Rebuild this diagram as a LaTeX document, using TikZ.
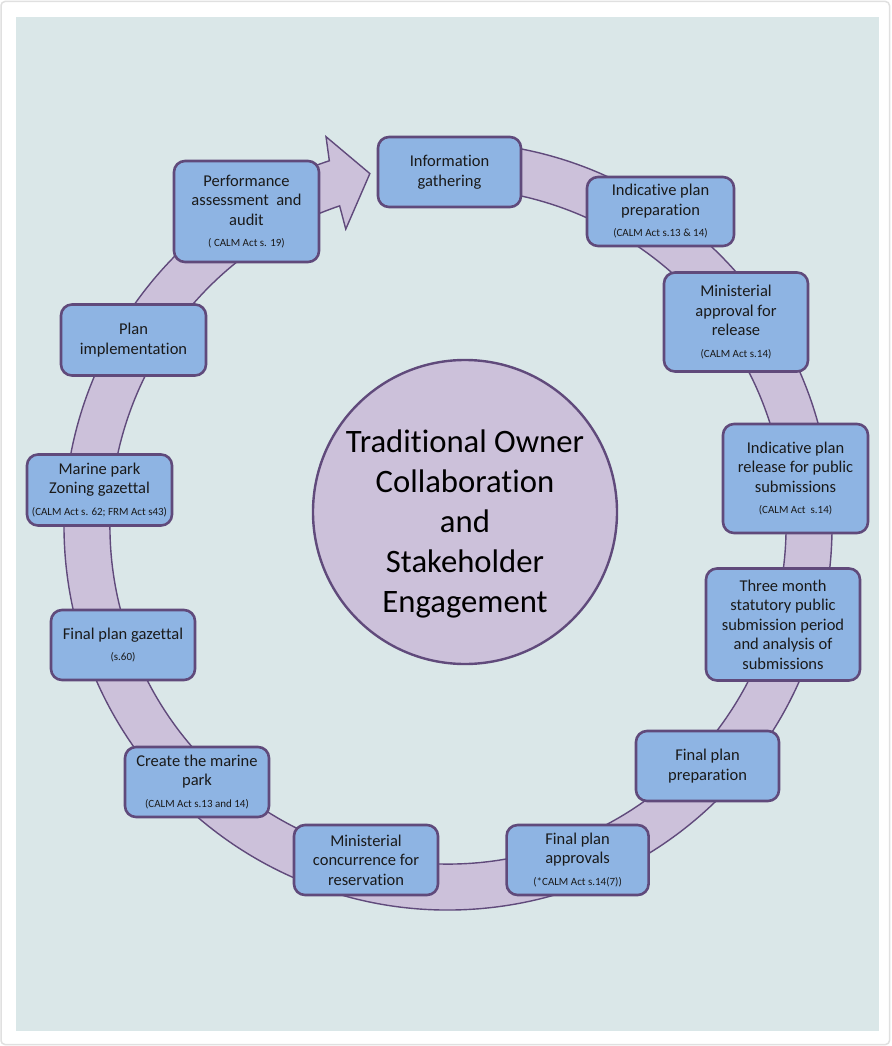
\documentclass[tikz,border=0pt]{standalone}
\usepackage{fontspec}
\setmainfont{Carlito}[Ligatures=NoCommon]
\usetikzlibrary{positioning,calc}

\definecolor{panel}{HTML}{DAE7E8}
\definecolor{lilac}{HTML}{CCC1DA}
\definecolor{plum}{HTML}{604A7B}
\definecolor{boxblue}{HTML}{8EB4E3}
\definecolor{ink}{HTML}{1A1A1A}

\tikzset{
  stage/.style={rectangle, rounded corners=11pt, fill=boxblue, draw=plum,
    line width=2.6pt, align=center, text=ink, inner sep=3pt,
    minimum width=143pt, minimum height=70pt,
    font=\fontsize{16.5}{19.5}\selectfont},
  hub/.style={circle, fill=lilac, draw=plum, line width=2.4pt,
    minimum size=304pt, inner sep=0pt},
  hubtext/.style={align=center, text=black, font=\fontsize{32.7}{40}\selectfont},
  band/.style={fill=lilac, draw=plum, line width=1.4pt},
}
\newcommand{\actref}[1]{{\fontsize{11}{12}\selectfont #1}}

\begin{document}
\begin{tikzpicture}[x=1pt, y=-1pt]

  % Frame
  \useasboundingbox (0,0) rectangle (891,1046);
  \fill[white] (0,0) rectangle (891,1046);
  \draw[black!12, line width=1.5pt, rounded corners=4pt] (1,1.5) rectangle (889.5,1044.5);
  \fill[panel] (16,17) rectangle (879,1031);

  % Ring arrow
  \coordinate (ring) at (448,526);
  \path[band] ($(ring)+(-96:384)$)
    arc[start angle=-96, end angle=252, radius=384]
    -- ($(ring)+(252.6:408)$) -- ($(ring)+(257.5:361)$)
    -- ($(ring)+(251:314)$) -- ($(ring)+(251.3:338)$)
    arc[start angle=251.3, end angle=-96, radius=338] -- cycle;

  % Centre
  \node[hub] (core) at (465,512) {};
  \node[hubtext] (core-text) at (465,524)
    {Traditional Owner\\Collaboration\\and\\Stakeholder\\Engagement};

  % Stages, clockwise from the top
  \node[stage] (info) at (449.5,172) {Information\\gathering};
  \node[stage, minimum width=147pt, minimum height=69pt] (prep) at (660.5,211.5)
    {Indicative plan\\preparation\\[2pt]\actref{(CALM Act s.13 \& 14)}};
  \node[stage, minimum width=144pt, minimum height=99pt] (minapp) at (736,322)
    {Ministerial\\approval for\\release\\[2pt]\actref{(CALM Act s.14)}};
  \node[stage, minimum width=145pt, minimum height=109pt] (release) at (795.5,478.5)
    {Indicative plan\\release for public\\submissions\\[2pt]\actref{(CALM Act~ s.14)}};
  \node[stage, minimum width=154pt, minimum height=112pt] (three) at (783,624.5)
    {Three month\\statutory public\\submission period\\and analysis of\\submissions};
  \node[stage] (fprep) at (707.5,766) {Final plan\\preparation};

  % Bottom pair
  \node[stage, minimum width=144pt] (mincon) at (366,860)
    {Ministerial\\concurrence for\\reservation};
  \node[stage, minimum width=142pt, right=66pt of mincon] (fappr)
    {Final plan\\approvals\\[2pt]\actref{(*CALM Act s.14(7))}};

  % Left side
  \node[stage, minimum width=144pt] (create) at (197,782)
    {Create the marine\\park\\[2pt]\actref{(CALM Act s.13 and 14)}};
  \node[stage, minimum width=144pt] (fgaz) at (123,645)
    {Final plan gazettal\\[2pt]\actref{(s.60)}};
  \node[stage, minimum width=145pt, minimum height=71pt] (zoning) at (99.5,490)
    {Marine park\\Zoning gazettal\\[2pt]\actref{(CALM Act s. 62; FRM Act s43)}};
  \node[stage, minimum width=145pt, minimum height=71pt] (impl) at (133.5,340)
    {Plan\\implementation};
  \node[stage, minimum width=145pt, minimum height=101pt] (perf) at (246.5,211.5)
    {Performance\\assessment~ and\\audit\\[2pt]\actref{( CALM Act s. 19)}};

\end{tikzpicture}
\end{document}
